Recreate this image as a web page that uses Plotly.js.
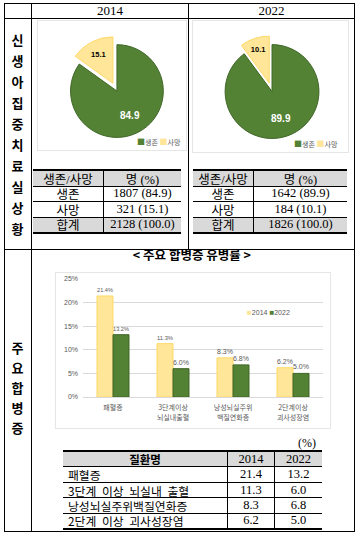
<!DOCTYPE html>
<html><head><meta charset="utf-8">
<script src="https://cdn.plot.ly/plotly-3.0.1.min.js"></script>
<style>
html,body{margin:0;padding:0;background:#fff;}
#page{position:relative;width:364px;height:538px;overflow:hidden;background:#fff;color:#000;font-family:"Liberation Serif","Noto Sans CJK KR",serif;}
.ln{position:absolute;background:#000;}
.hd{position:absolute;top:3px;height:15px;line-height:15px;text-align:center;font-size:13px;}
.vt{position:absolute;left:4px;width:27px;text-align:center;font-family:"Noto Sans CJK KR",sans-serif;font-weight:bold;font-size:13px;}
.box{position:absolute;border:1px solid #e6e6e6;box-sizing:border-box;}
.plt{position:absolute;}
.tbl{position:absolute;}
.row{position:absolute;left:0;display:flex;box-sizing:border-box;border-top:1px solid #000;}
.cell{box-sizing:border-box;height:100%;display:flex;align-items:center;justify-content:center;white-space:nowrap;overflow:hidden;}
</style></head>
<body><div id="page"></div>
<script>
// ---------- data ----------
const yearLabels = ['2014', '2022'];
const sideTitleTop = '신생아집중치료실상황';
const sideTitleBottom = '주요합병증';

const survivalLabels = ['생존', '사망'];
const survivalPct2014 = [84.9, 15.1];
const survivalPct2022 = [89.9, 10.1];
const survivalCount2014 = [1807, 321];
const survivalCount2022 = [1642, 184];
const totalLabel = '합계';
const totalCount2014 = 2128;
const totalCount2022 = 1826;
const totalPct = 100.0;
const survivalHeader = ['생존/사망', '명 (%)'];

const barTitle = '< 주요 합병증 유병률 >';
const barCategories = ['패혈증', '3단계이상<br>뇌실내출혈', '낭성뇌실주위<br>백질연화증', '2단계이상<br>괴사성장염'];
const rates2014 = [21.4, 11.3, 8.3, 6.2];
const rates2022 = [13.2, 6.0, 6.8, 5.0];

const diseaseHeader = ['질환명', '2014', '2022'];
const diseaseNames = ['패혈증', '3단계 이상 뇌실내 출혈', '낭성뇌실주위백질연화증', '2단계 이상 괴사성장염'];
const unitLabel = '(%)';

// ---------- styles ----------
const GREEN = '#548235', GREEN_LINE = '#3f6628';
const YELLOW = '#FFE699', YELLOW_LINE = '#FFD966';
const GRAY_TXT = '#595959';
const HEAD_FILL = '#d9d9d9';
const PULL = 0.19;

const page = document.getElementById('page');
function el(cls, css, html) {
  const d = document.createElement('div');
  if (cls) d.className = cls;
  d.style.cssText = css || '';
  if (html !== undefined) d.innerHTML = html;
  page.appendChild(d);
  return d;
}

// ---------- frame lines ----------
el('ln', 'left:4px;top:3px;width:351px;height:1px;');
el('ln', 'left:4px;top:531px;width:351px;height:1px;');
el('ln', 'left:4px;top:3px;width:1px;height:529px;');
el('ln', 'left:354px;top:3px;width:1px;height:529px;');
el('ln', 'left:31px;top:3px;width:1px;height:529px;');
el('ln', 'left:4px;top:18px;width:351px;height:1px;');
el('ln', 'left:188px;top:3px;width:1px;height:246px;');
el('ln', 'left:4px;top:249px;width:351px;height:1px;');

el('hd', 'left:32px;width:156px;', yearLabels[0]);
el('hd', 'left:189px;width:165px;', yearLabels[1]);

const vt1 = el('vt', 'top:28.5px;');
sideTitleTop.split('').forEach(c => { const d = document.createElement('div'); d.style.cssText = 'height:21px;line-height:21px;'; d.textContent = c; vt1.appendChild(d); });
const vt2 = el('vt', 'top:338px;');
sideTitleBottom.split('').forEach(c => { const d = document.createElement('div'); d.style.cssText = 'height:20px;line-height:20px;'; d.textContent = c; vt2.appendChild(d); });

// ---------- tables ----------
function drawTable(left, top, widths, rowH, rows, fills, opts) {
  const total = widths.reduce((a, b) => a + b, 0);
  const t = el('tbl', `left:${left}px;top:${top}px;width:${total}px;height:${rowH * rows.length + 3}px;`);
  rows.forEach((r, i) => {
    const row = document.createElement('div');
    row.className = 'row';
    const bt = i === 0 ? 2 : 1;
    const y = i === 0 ? 0 : 1 + i * rowH;
    let css = `top:${y}px;width:${total}px;height:${rowH + (i === 0 ? 1 : 0)}px;border-top-width:${bt}px;background:${fills[i]};`;
    if (i === rows.length - 1) css += 'border-bottom:2px solid #000;height:' + (rowH + 2) + 'px;';
    row.style.cssText = css;
    r.forEach((txt, j) => {
      const c = document.createElement('div');
      c.className = 'cell';
      let cs = `width:${widths[j]}px;` + (j > 0 ? 'border-left:1px solid #000;' : '');
      cs += opts.cellStyle(i, j);
      c.style.cssText = cs;
      c.innerHTML = txt;
      row.appendChild(c);
    });
    t.appendChild(row);
  });
}
function fmt(n, p) { return n.toFixed(p); }
function survivalRows(counts, pcts, tot) {
  const rows = [survivalHeader.slice()];
  survivalLabels.forEach((l, i) => rows.push([l, counts[i] + ' (' + fmt(pcts[i], 1) + ')']));
  rows.push([totalLabel, tot + ' (' + fmt(totalPct, 1) + ')']);
  return rows;
}
const survFills = [HEAD_FILL, '#fff', '#fff', HEAD_FILL];
const survStyle = (i, j) => 'font-size:12.5px;';
drawTable(33, 169, [70, 78], 15.5, survivalRows(survivalCount2014, survivalPct2014, totalCount2014), survFills, { cellStyle: survStyle });
drawTable(193, 169, [60, 94], 15.5, survivalRows(survivalCount2022, survivalPct2022, totalCount2022), survFills, { cellStyle: survStyle });

const disRows = [diseaseHeader.slice()];
diseaseNames.forEach((n, i) => disRows.push([n, fmt(rates2014[i], 1), fmt(rates2022[i], 1)]));
drawTable(63, 450, [164, 47, 48], 15.4, disRows, [HEAD_FILL, '#fff', '#fff', '#fff', '#fff'], {
  cellStyle: (i, j) => {
    if (i === 0 && j === 0) return 'font-family:"Noto Sans CJK KR",sans-serif;font-weight:bold;font-size:11.5px;';
    if (j === 0) return 'justify-content:flex-start;padding-left:5px;font-family:"Noto Sans CJK KR",sans-serif;font-size:11.8px;word-spacing:3px;';
    return 'font-size:12.5px;';
  }
});
el('', 'position:absolute;left:280px;top:436px;width:36px;text-align:right;font-size:12px;line-height:14px;', unitLabel);

// ---------- pie charts ----------
el('box', 'left:37px;top:20px;width:150px;height:131px;');
el('box', 'left:192px;top:20px;width:157px;height:133px;');
const d1 = el('plt', 'left:37px;top:20px;width:149px;height:130px;');
const d2 = el('plt', 'left:192px;top:20px;width:156px;height:132px;');

function pieTrace(vals, dom) {
  return {
    type: 'pie', labels: survivalLabels, values: vals, sort: false,
    direction: 'clockwise', rotation: 0, pull: [0, PULL],
    marker: { colors: [GREEN, YELLOW], line: { color: [GREEN_LINE, YELLOW_LINE], width: 1 } },
    texttemplate: ['', '<b>%{value:.1f}</b>'], textposition: 'inside', insidetextorientation: 'horizontal',
    textfont: { family: 'Liberation Sans, Arial, sans-serif', size: [10, 7.5], color: ['#ffffff', '#000000'] },
    hoverinfo: 'none', showlegend: false, domain: dom
  };
}
// label of the large slice: placed on the slice bisector (computed from the values)
function bigSliceLabel(vals, dom, w, h, frac) {
  const tot = vals.reduce((a, b) => a + b, 0);
  const mid = (vals[0] / 2) / tot * 2 * Math.PI; // clockwise from 12 o'clock
  const bw = w * (dom.x[1] - dom.x[0]), bh = h * (dom.y[1] - dom.y[0]);
  const r = Math.min(bw, bh) / (2 + 2 * PULL);
  const cx = w * (dom.x[0] + dom.x[1]) / 2;
  const cy = h * (1 - dom.y[0]) - bh / 2;
  const px = cx + frac * r * Math.sin(mid);
  const py = cy - frac * r * Math.cos(mid);
  return {
    xref: 'paper', yref: 'paper', x: px / w, y: 1 - py / h, xanchor: 'center', yanchor: 'middle', showarrow: false,
    text: '<b>' + fmt(vals[0], 1) + '</b>',
    font: { family: 'Liberation Sans, Arial, sans-serif', size: 10, color: '#ffffff' }
  };
}
function legendText(items) {
  return items.map(it => `<span style="color:${it[1]};font-size:8px">■</span>${it[0]}`).join(' ');
}
function pieLayout(vals, dom, w, h, lx, ly) {
  return {
    width: w, height: h, margin: { l: 0, r: 0, t: 0, b: 0 },
    paper_bgcolor: 'rgba(0,0,0,0)', plot_bgcolor: 'rgba(0,0,0,0)', showlegend: false,
    annotations: [bigSliceLabel(vals, dom, w, h, 0.6), {
      xref: 'paper', yref: 'paper', x: lx, y: ly, xanchor: 'right', yanchor: 'middle', showarrow: false,
      text: legendText([[survivalLabels[0], GREEN], [survivalLabels[1], YELLOW]]),
      font: { family: 'Noto Sans CJK KR, sans-serif', size: 7, color: GRAY_TXT }
    }]
  };
}
const cfg = { staticPlot: true, displayModeBar: false };
const dom1 = { x: [0.166, 0.907], y: [0.029, 0.878] };
const dom2 = { x: [0.155, 0.871], y: [0.034, 0.882] };
Plotly.newPlot(d1, [pieTrace(survivalPct2014, dom1)], pieLayout(survivalPct2014, dom1, 149, 130, 0.98, 0.062), cfg);
Plotly.newPlot(d2, [pieTrace(survivalPct2022, dom2)], pieLayout(survivalPct2022, dom2, 156, 132, 0.949, 0.068), cfg);

// ---------- bar chart ----------
el('box', 'left:55px;top:272px;width:276px;height:157px;');
const d3 = el('plt', 'left:40px;top:242px;width:305px;height:190px;');
function barTrace(name, vals, color, line) {
  return {
    type: 'bar', name: name, x: barCategories, y: vals,
    marker: { color: color, line: { color: line, width: 1 } },
    texttemplate: '%{y:.1f}%', textposition: 'outside', cliponaxis: false,
    textfont: { family: 'Liberation Sans, Arial, sans-serif', size: 7, color: GRAY_TXT },
    hoverinfo: 'none'
  };
}
const barTitleHtml = '<b>' + barTitle.replace(/</g, '&lt;').replace(/>/g, '&gt;') + '</b>';
Plotly.newPlot(d3, [
  barTrace(yearLabels[0], rates2014, YELLOW, YELLOW_LINE),
  barTrace(yearLabels[1], rates2022, GREEN, GREEN_LINE)
], {
  width: 305, height: 190, margin: { l: 43, r: 22, t: 37, b: 35 },
  paper_bgcolor: 'rgba(0,0,0,0)', plot_bgcolor: 'rgba(0,0,0,0)',
  barmode: 'group', bargap: 0.467, bargroupgap: 0, showlegend: false,
  title: { text: barTitleHtml, x: 0.498, xref: 'container', y: 1 - 14 / 190, yref: 'container', yanchor: 'middle', xanchor: 'center',
    font: { family: 'Noto Sans CJK KR, sans-serif', size: 12.5, color: '#000' } },
  xaxis: { showline: true, linecolor: '#d9d9d9', linewidth: 1, ticks: '', showgrid: false, ticklabelstandoff: 4,
    tickfont: { family: 'Noto Sans CJK KR, sans-serif', size: 7, color: GRAY_TXT } },
  yaxis: { range: [0, 25], dtick: 5, ticksuffix: '%', gridcolor: '#d9d9d9', gridwidth: 1, zeroline: false,
    showline: false, ticks: '', ticklabelstandoff: 4,
    tickfont: { family: 'Liberation Sans, Arial, sans-serif', size: 7, color: GRAY_TXT } },
  annotations: [{
    xref: 'paper', yref: 'paper', x: 0.675, y: 0.72, xanchor: 'left', yanchor: 'middle', showarrow: false,
    text: legendText([[yearLabels[0], YELLOW], [yearLabels[1], GREEN]]),
    font: { family: 'Liberation Sans, Arial, sans-serif', size: 7, color: GRAY_TXT }
  }]
}, cfg);
</script></body></html>
